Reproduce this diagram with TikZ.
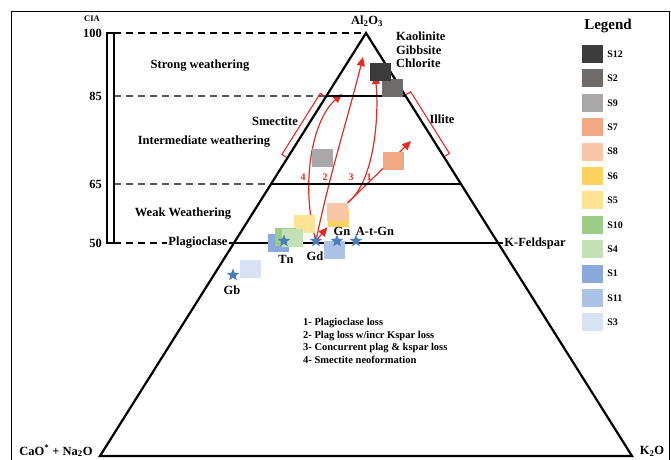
\documentclass[tikz,border=0pt]{standalone}
\usepackage{fontspec}
\setmainfont{Liberation Serif}
\usetikzlibrary{shapes.geometric,arrows.meta,backgrounds,calc,positioning}

\definecolor{trendred}{HTML}{E32B22}
\definecolor{rockblue}{HTML}{4A7EBB}
\definecolor{cSxii}{HTML}{3B3B3B}
\definecolor{cSii}{HTML}{6F6B6B}
\definecolor{cSix}{HTML}{A9A7A7}
\definecolor{cSvii}{HTML}{F2A880}
\definecolor{cSviii}{HTML}{F7C7A8}
\definecolor{cSvi}{HTML}{FBD35E}
\definecolor{cSv}{HTML}{FDE394}
\definecolor{cSx}{HTML}{9DCC86}
\definecolor{cSiv}{HTML}{C4E1B5}
\definecolor{cSi}{HTML}{8BA9DC}
\definecolor{cSxi}{HTML}{ADC3E6}
\definecolor{cSiii}{HTML}{D9E2F3}

\begin{document}
\begin{tikzpicture}
[x=1pt, y=-1pt,
lbl/.style ={font=\bfseries\fontsize{12.5}{13.5}\selectfont, inner sep=1pt},
legtxt/.style ={font=\bfseries\fontsize{10}{11}\selectfont, inner sep=0pt},
sample/.style ={rectangle, minimum width=21pt, minimum height=18pt, inner sep=0pt},
rock/.style ={star, star points=5, star point ratio=2.3, fill=rockblue,
minimum size=13pt, inner sep=0pt},
trend/.style ={draw=trendred, line width=1.2pt, -{Triangle[length=9pt,width=8pt]}},
trendno/.style ={font=\bfseries\fontsize{10}{11}\selectfont, text=trendred, inner sep=0pt},
bracket/.style ={draw=trendred, line width=1.1pt},
ciadash/.style ={dash pattern=on 7pt off 5pt, line width=1.2pt}]

\useasboundingbox (0,0) rectangle (671,459);
\draw[line width=0.8pt] (11,470) -- (11,11) -- (669,11) -- (669,470);

% triangle corners
\coordinate (apex) at (366,33);
\coordinate (ca) at (100,456);
\coordinate (k) at (632,456);
\draw[line width=2.2pt] (ca) -- (apex) -- (k) -- cycle;

% CIA scale
\draw[line width=2pt] (106.5,33) rectangle (113.5,243);
\node[lbl, font=\bfseries\fontsize{8.5}{9}\selectfont] (cia) at (92,19) {CIA};
\node[lbl, anchor=east] (n100) at (103,33) {100};
\node[lbl, anchor=east] (n85) at (103,96) {85};
\node[lbl, anchor=east] (n65) at (103,184) {65};
\node[lbl, anchor=east] (n50) at (103,243) {50};

\coordinate (l85) at ($(apex)!0.149!(ca)$);
\coordinate (r85) at ($(apex)!0.149!(k)$);
\coordinate (l65) at ($(apex)!0.357!(ca)$);
\coordinate (r65) at ($(apex)!0.357!(k)$);
\draw[ciadash] (114,33) -- (apex);
\draw[ciadash] (114,96) -- (l85);
\draw[line width=1.2pt] (l85) -- (r85);
\draw[ciadash] (114,184) -- (l65);
\draw[line width=1.2pt] (l65) -- (r65);

\node[lbl] (plag) at (198,243) {Plagioclase};
\node[lbl] (kfs) at (535,243) {K-Feldspar};
\draw[ciadash] (114,243) -- (plag.west);
\draw[line width=1.2pt] (plag.east) -- (kfs.west);

% zone and corner labels
\node[lbl] (strong) at (200,66) {Strong weathering};
\node[lbl] (inter) at (204,142) {Intermediate weathering};
\node[lbl] (weak) at (183,214) {Weak Weathering};
\node[lbl] (smect) at (275,121) {Smectite};
\node[lbl] (illite) at (442,119) {Illite};
\node[lbl] (al) at (367,21) {Al\textsubscript{2}O\textsubscript{3}};
\node[lbl, anchor=west, align=left] (clays) at (395,50) {Kaolinite\\Gibbsite\\Chlorite};
\node[lbl] (cana) at (56,451) {CaO\textsuperscript{*} + Na\textsubscript{2}O};
\node[lbl] (ko) at (652,451) {K\textsubscript{2}O};

% brackets
\draw[bracket] ($(apex)!0.151!(ca)+(-1.3,-0.8)$) -- ($(apex)!0.151!(ca)+(-5.5,-3.5)$)
  -- ($(apex)!0.2955!(ca)+(-5.5,-3.5)$) -- ($(apex)!0.2955!(ca)+(-1.3,-0.8)$);
\draw[bracket] ($(apex)!0.147!(k)+(1.3,-0.8)$) -- ($(apex)!0.147!(k)+(5.5,-3.5)$)
  -- ($(apex)!0.293!(k)+(5.5,-3.5)$) -- ($(apex)!0.293!(k)+(1.3,-0.8)$);

% samples
\node[sample, fill=cSii] (s2) at (392,88) {};
\node[sample, fill=cSxii] (s12) at (380,71.5) {};
\node[sample, fill=cSix] (s9) at (322,158) {};
\node[sample, fill=cSvii] (s7) at (393,161) {};
\node[sample, fill=cSvi] (s6) at (338,218) {};
\node[sample, fill=cSviii] (s8) at (337,212) {};
\node[sample, fill=cSv] (s5) at (304.5,223.5) {};
\node[sample, fill=cSi] (s1) at (278,243) {};
\node[sample, fill=cSx] (s10) at (285,237) {};
\node[sample, fill=cSiv] (s4) at (292,238) {};
\node[sample, fill=cSxi] (s11) at (334,250) {};
\node[sample, fill=cSiii] (s3) at (250,269) {};

% rocks
\node[rock] (tn) at (284,241) {};
\node[rock] (gd) at (316,241) {};
\node[rock] (gn) at (337,241) {};
\node[rock] (atgn) at (356,241) {};
\node[rock] (gb) at (233,275) {};
\node[lbl] (tnlbl) at (286,259) {Tn};
\node[lbl] (gdlbl) at (315,256) {Gd};
\node[lbl] (gnlbl) at (342,231) {Gn};
\node[lbl] (atgnlbl) at (375,231) {A-t-Gn};
\node[lbl] (gblbl) at (232,290) {Gb};

% trends
\begin{scope}[on background layer]
\draw[trend] (gd.center) .. controls (300,185) and (312,120) .. (342,94);
\draw[trend] (gd.center) .. controls (328,180) and (350,110) .. (363,57);
\draw[trend] (s8.north east) .. controls (376,180) and (379,110) .. (375,75);
\draw[trend] (s8.north east) -- (411,141);
\draw[trend] (gd.center) -- (s6.south west);
\end{scope}
\node[trendno] (no4) at (303,177) {4};
\node[trendno] (no2) at (325,177) {2};
\node[trendno] (no3) at (351,177) {3};
\node[trendno] (no1) at (369,177) {1};

\node[anchor=west, align=left, inner sep=0pt, font=\bfseries\fontsize{10.5}{12.7}\selectfont] (trends) at (303,341)
{1- Plagioclase loss\\2- Plag loss w/incr Kspar loss\\3- Concurrent plag \& kspar loss\\4- Smectite neoformation};

% legend
\node[lbl, font=\bfseries\fontsize{15}{16}\selectfont] (legend) at (608,26) {Legend};
\node[sample, fill=cSxii] (l12) at (592.5,54) {};
\node[sample, fill=cSii, below=6pt of l12] (l2) {};
\node[sample, fill=cSix, below=6pt of l2] (l9) {};
\node[sample, fill=cSvii, below=6pt of l9] (l7) {};
\node[sample, fill=cSviii, below=6pt of l7] (l8) {};
\node[sample, fill=cSvi, below=6pt of l8] (l6) {};
\node[sample, fill=cSv, below=6pt of l6] (l5) {};
\node[sample, fill=cSx, below=6pt of l5] (l10) {};
\node[sample, fill=cSiv, below=6pt of l10] (l4) {};
\node[sample, fill=cSi, below=6pt of l4] (l1) {};
\node[sample, fill=cSxi, below=6pt of l1] (l11) {};
\node[sample, fill=cSiii, below=6pt of l11] (l3) {};
\node[legtxt, right=4pt of l12] {S12};
\node[legtxt, right=4pt of l2] {S2};
\node[legtxt, right=4pt of l9] {S9};
\node[legtxt, right=4pt of l7] {S7};
\node[legtxt, right=4pt of l8] {S8};
\node[legtxt, right=4pt of l6] {S6};
\node[legtxt, right=4pt of l5] {S5};
\node[legtxt, right=4pt of l10] {S10};
\node[legtxt, right=4pt of l4] {S4};
\node[legtxt, right=4pt of l1] {S1};
\node[legtxt, right=4pt of l11] {S11};
\node[legtxt, right=4pt of l3] {S3};
\end{tikzpicture}
\end{document}
